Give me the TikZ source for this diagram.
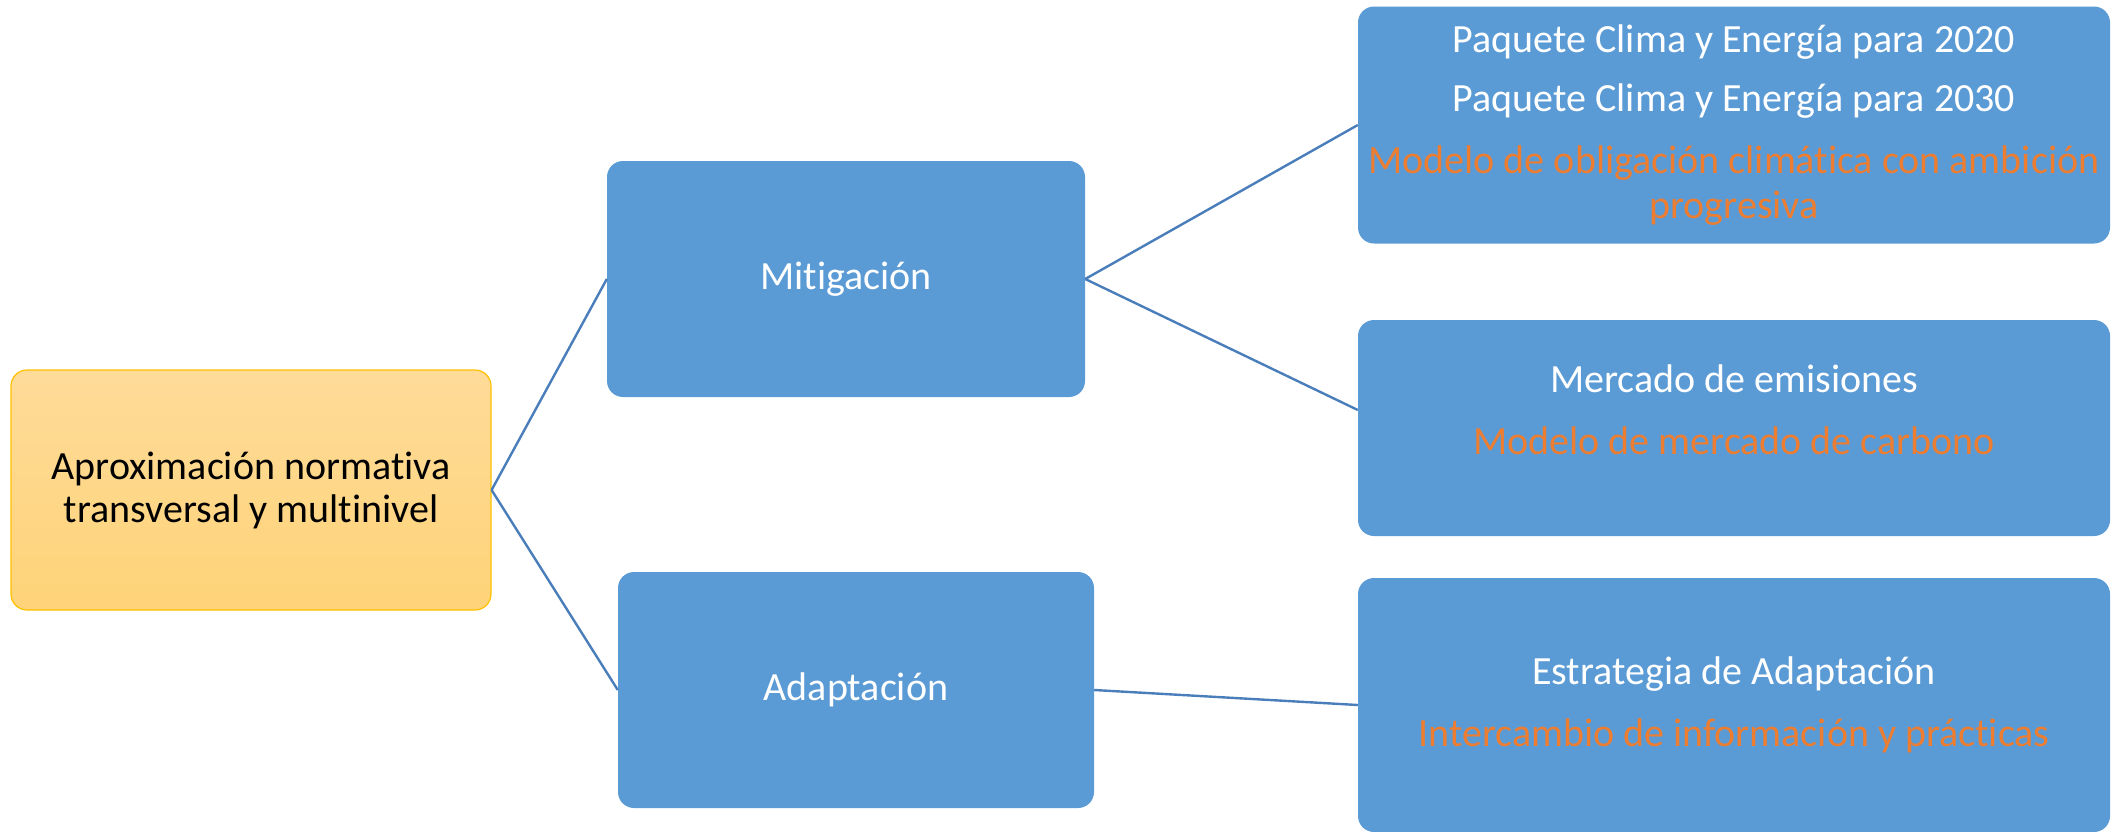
\documentclass[tikz,border=0pt]{standalone}
\usepackage{fontspec}
\setmainfont{Carlito}[Ligatures=NoCommon]
\definecolor{boxblue}{RGB}{91,155,213}
\definecolor{lineblue}{RGB}{74,126,187}
\definecolor{txtorange}{RGB}{237,125,49}
\definecolor{rootgold}{RGB}{255,192,0}
\definecolor{roottop}{RGB}{254,219,153}
\definecolor{rootbot}{RGB}{254,211,120}
\tikzset{
  bluebox/.style={fill=boxblue, rounded corners=16pt, text=white, align=center,
    font=\fontsize{40}{45}\selectfont},
  rootbox/.style={draw=rootgold, line width=1.2pt, top color=roottop, bottom color=rootbot,
    rounded corners=16pt, text=black, align=center, font=\fontsize{40}{43}\selectfont},
  link/.style={draw=lineblue, line width=2.4pt}
}
\begin{document}
\begin{tikzpicture}[x=1pt,y=-1pt]
        \useasboundingbox (0,0) rectangle (2111,831);

        %Shape: Rounded Rect [root]
        \node [rootbox, minimum width=480pt, minimum height=240pt] (root) at (251,490) {Aproximación normativa\\transversal y multinivel};
        %Shape: Rounded Rect [second level]
        \node [bluebox, minimum width=478pt, minimum height=236pt] (mitig) at (846,279) {Mitigación};
        \node [bluebox, minimum width=476pt, minimum height=236pt] (adapt) at (856,690) {Adaptación};
        %Shape: Rounded Rect [third level]
        \node [bluebox, minimum width=752pt, minimum height=237pt] (paquete) at (1734,125) {Paquete Clima y Energía para 2020\\[14pt]Paquete Clima y Energía para 2030\\[17pt]\textcolor{txtorange}{Modelo de obligación climática con ambición}\\\textcolor{txtorange}{progresiva}};
        \node [bluebox, minimum width=752pt, minimum height=216pt] (mercado) at (1734,428) {};
        \node [text=white, align=center, font=\fontsize{40}{45}\selectfont] (mercadotxt) at (1734,410) {Mercado de emisiones\\[17pt]\textcolor{txtorange}{Modelo de mercado de carbono}};
        \node [bluebox, minimum width=752pt, minimum height=254pt] (estrategia) at (1734,705) {Estrategia de Adaptación\\[17pt]\textcolor{txtorange}{Intercambio de información y prácticas}};

        %Straight Lines
        \draw [link] (root.east) -- (mitig.west);
        \draw [link] (root.east) -- (adapt.west);
        \draw [link] (mitig.east) -- (paquete.west);
        \draw [link] (mitig.east) -- (mercado.west |- mercadotxt);
        \draw [link] (adapt.east) -- (estrategia.west);
\end{tikzpicture}
\end{document}
